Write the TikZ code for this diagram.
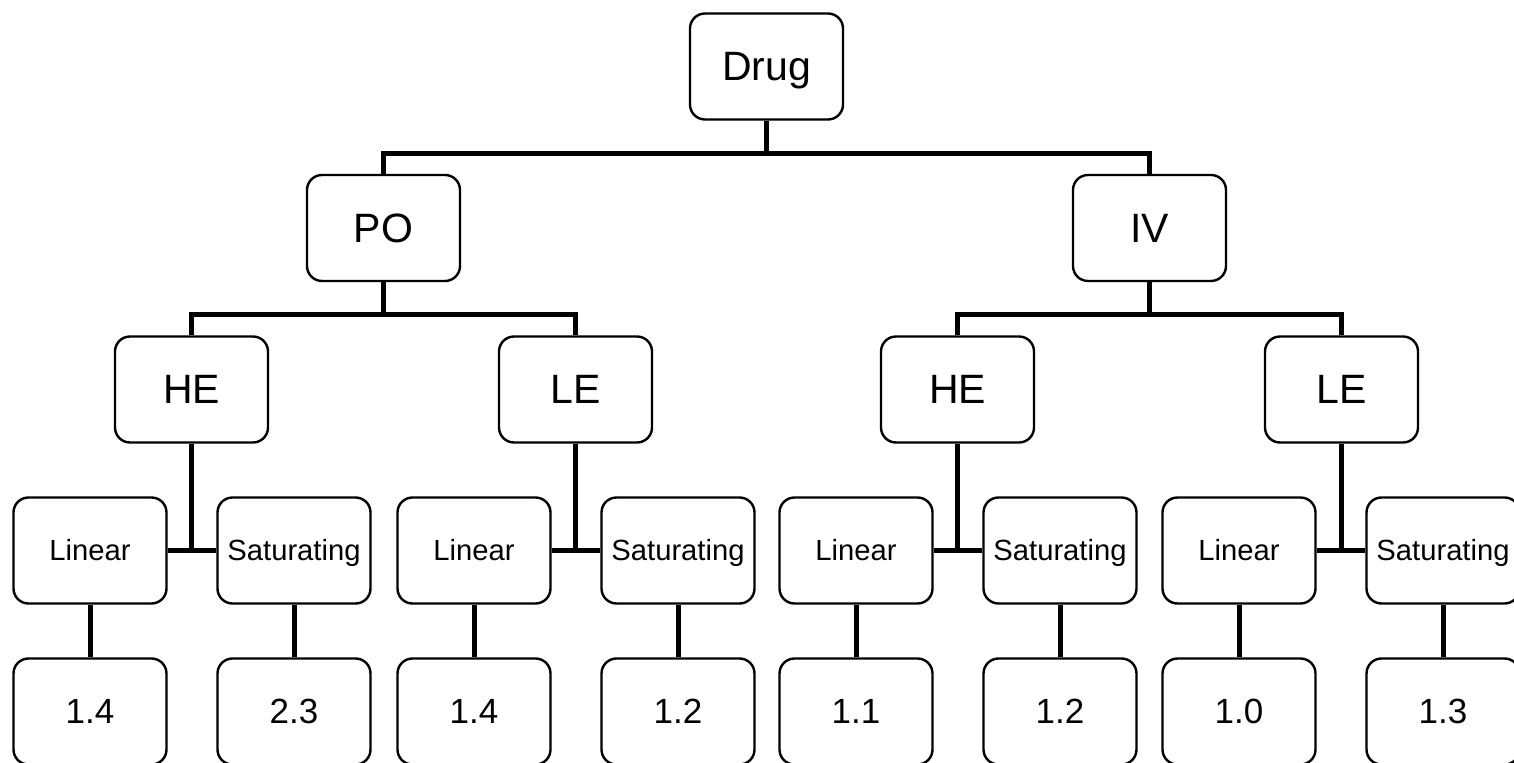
\documentclass[tikz,border=0pt]{standalone}
\usepackage{fontspec}
\setmainfont{Liberation Sans}
\begin{document}
\begin{tikzpicture}[x=0.5pt,y=-0.5pt,
  box/.style={draw, rounded corners=7.5pt, line width=1.2pt,
    minimum width=76.5pt, minimum height=53pt, inner sep=0pt, text depth=0pt},
  big/.style={box, font=\fontsize{20.5}{25}\selectfont, text height=14.2pt},
  mid/.style={box, font=\fontsize{14.6}{17}\selectfont, text height=10.2pt},
  num/.style={box, font=\fontsize{17.5}{21}\selectfont, text height=12.3pt},
  link/.style={line width=2.5pt}]
\useasboundingbox (0,0) rectangle (1514,763);
\clip (0,0) rectangle (1514,763);

% top levels
\node[big] (drug) at (766.5,66.5) {Drug};
\node[big] (po) at (383.5,228) {PO};
\node[big] (iv) at (1149.5,228) {IV};
\node[big] (he1) at (191.5,389.5) {HE};
\node[big] (le1) at (575.5,389.5) {LE};
\node[big] (he2) at (957.5,389.5) {HE};
\node[big] (le2) at (1341.5,389.5) {LE};

% model row
\node[mid] (l1) at (90,550.5) {Linear};
\node[mid] (s1) at (294,550.5) {Saturating};
\node[mid] (l2) at (474,550.5) {Linear};
\node[mid] (s2) at (678,550.5) {Saturating};
\node[mid] (l3) at (856,550.5) {Linear};
\node[mid] (s3) at (1060,550.5) {Saturating};
\node[mid] (l4) at (1239,550.5) {Linear};
\node[mid] (s4) at (1443,550.5) {Saturating};

% values
\node[num] (v1) at (90,711.5) {1.4};
\node[num] (v2) at (294,711.5) {2.3};
\node[num] (v3) at (474,711.5) {1.4};
\node[num] (v4) at (678,711.5) {1.2};
\node[num] (v5) at (856,711.5) {1.1};
\node[num] (v6) at (1060,711.5) {1.2};
\node[num] (v7) at (1239,711.5) {1.0};
\node[num] (v8) at (1443,711.5) {1.3};

% branching bars
\draw[link] (po.north) -- ++(0,-20) -| (iv.north);
\draw[link] (drug.south) -- (drug.south |- 0,155);
\draw[link] (he1.north) -- ++(0,-21) -| (le1.north);
\draw[link] (po.south) -- (po.south |- 0,316);
\draw[link] (he2.north) -- ++(0,-21) -| (le2.north);
\draw[link] (iv.south) -- (iv.south |- 0,316);

% junctions between model boxes
\foreach \p/\l/\s in {he1/l1/s1, le1/l2/s2, he2/l3/s3, le2/l4/s4} {
  \draw[link] (\l.east) -- (\s.west);
  \draw[link] (\p.south) -- (\p.south |- \l.east);
}

% model to value
\foreach \a/\b in {l1/v1, s1/v2, l2/v3, s2/v4, l3/v5, s3/v6, l4/v7, s4/v8}
  \draw[link] (\a.south) -- (\b.north);
\end{tikzpicture}
\end{document}
